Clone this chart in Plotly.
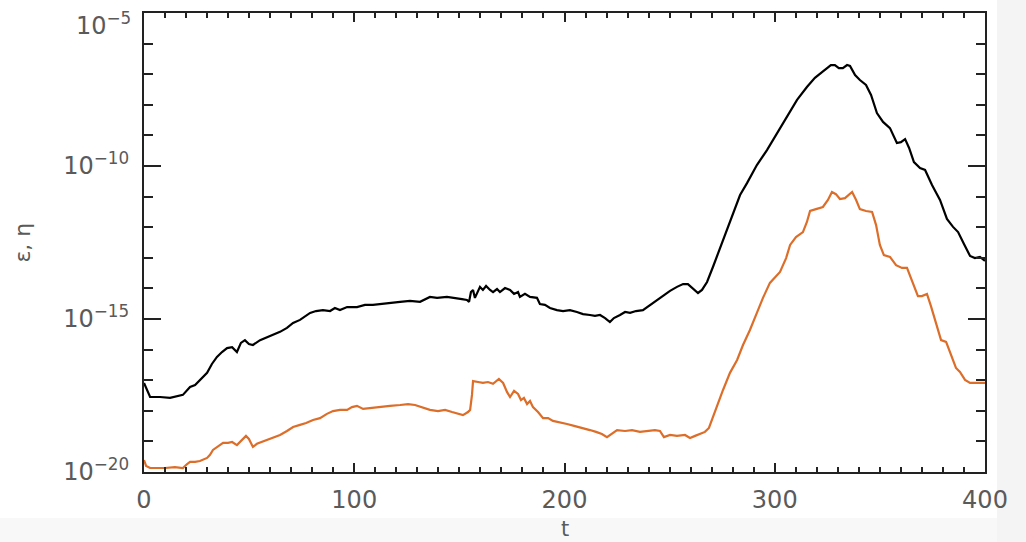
import plotly.graph_objects as go

# time samples and log10 values
t_eps = [0, 1, 2.9, 7.6, 12.4, 18.5, 21.9, 24.3, 26.6, 30, 32.3, 34.7, 37.1, 39.5, 41.9, 44.2, 46.1, 48, 49.9, 51.8,
         55.2, 58.5, 61.8, 64.7, 68, 70.9, 74.2, 76.6, 79, 81.8, 85.1, 88.5, 90.8, 93.2, 96.6, 101.3, 105.1, 108.9,
         112.2, 117, 121.8, 126.5, 131.3, 136, 139.4, 144.1, 147.9, 151.2, 153.6, 154.6, 155.5, 156.5, 157.4, 158.4,
         159.8, 161.2, 162.7, 164.6, 166, 167.9, 169.3, 171.7, 174.1, 176, 177.9, 178.8, 181.2, 183.6, 186.9, 188.3,
         190.7, 193.1, 196.4, 199.3, 202.6, 205.9, 208.8, 212.1, 214.5, 216.9, 219.3, 221.6, 223.5, 226.4, 228.8,
         231.2, 234, 237.3, 240.7, 244, 246.9, 250.2, 253.5, 256.4, 258.7, 261.1, 263.5, 265.4, 267.8, 270.6, 274,
         278.7, 283.5, 286.8, 291.5, 296.3, 301.1, 305.8, 310.6, 315.3, 319.1, 322.5, 324.8, 326.7, 328.6, 330.5,
         332.4, 334.4, 335.8, 338.2, 340.5, 343.4, 345.8, 348.6, 351.5, 354.8, 358.1, 360, 362, 363.9, 366.2, 369.1,
         371.5, 374.8, 378.6, 381.9, 384.8, 387.2, 390, 392.9, 395.2, 397.6, 400]
log_eps = [-17.09, -17.25, -17.55, -17.55, -17.58, -17.48, -17.22, -17.16, -16.99, -16.76, -16.47, -16.24, -16.08,
           -15.95, -15.92, -16.08, -15.78, -15.69, -15.82, -15.85, -15.69, -15.59, -15.49, -15.42, -15.29, -15.13,
           -15.03, -14.90, -14.80, -14.74, -14.71, -14.74, -14.64, -14.71, -14.61, -14.61, -14.54, -14.54, -14.51,
           -14.48, -14.44, -14.41, -14.44, -14.28, -14.31, -14.28, -14.31, -14.35, -14.38, -14.44, -14.12, -14.05,
           -14.31, -14.18, -13.95, -14.05, -13.92, -14.05, -14.12, -14.02, -14.12, -13.99, -14.05, -14.18, -14.12,
           -14.28, -14.18, -14.28, -14.31, -14.51, -14.54, -14.64, -14.71, -14.74, -14.71, -14.77, -14.84, -14.87,
           -14.90, -14.87, -14.97, -15.10, -14.97, -14.87, -14.77, -14.80, -14.74, -14.71, -14.54, -14.38, -14.25,
           -14.08, -13.95, -13.86, -13.86, -13.99, -14.15, -14.05, -13.79, -13.30, -12.68, -11.76, -10.95, -10.56,
           -9.97, -9.48, -8.92, -8.40, -7.84, -7.42, -7.12, -6.93, -6.80, -6.70, -6.70, -6.80, -6.80, -6.70, -6.73,
           -7.03, -7.19, -7.35, -7.68, -8.27, -8.56, -8.76, -9.25, -9.22, -9.12, -9.41, -9.87, -10.07, -10.13, -10.62,
           -11.11, -11.73, -11.99, -12.16, -12.55, -12.94, -13.01, -12.97, -13.10]

t_eta = [0, 1, 2.9, 10, 14.7, 18.5, 20.5, 21.9, 24.3, 26.6, 30, 31.4, 32.8, 35.2, 37.6, 40, 41.9, 44.2, 46.6, 48.5,
         49.9, 51.8, 53.7, 56.1, 58.5, 61.8, 64.7, 68, 70.9, 74.2, 77.1, 80.4, 83.7, 87, 89.9, 93.2, 96.6, 98.9,
         101.3, 104.2, 107.5, 112.2, 117, 121.8, 125.6, 128.9, 132.2, 136, 139.8, 143.2, 146.5, 149.3, 151.7, 154.1,
         155.1, 156, 156.5, 158.9, 161.2, 163.6, 166, 168.8, 170.8, 172.7, 174.1, 176, 177.9, 179.3, 180.7, 182.2,
         183.6, 185, 187.4, 189.8, 192.2, 194.5, 197.9, 201.2, 205, 208.8, 212.1, 215, 217.8, 220.2, 222.6, 225,
         228.8, 232.1, 235.9, 239.2, 243, 245.4, 247.3, 250.2, 253.5, 257.3, 259.7, 262.1, 264.4, 266.8, 268.7,
         270.6, 273, 275.4, 278.7, 282.1, 284.9, 288.2, 291.5, 294.4, 297.7, 300.1, 302.5, 305.4, 307.3, 310.1,
         313.4, 315.3, 316.8, 319.6, 322.9, 325.3, 327.2, 329.1, 331, 333.4, 335.3, 336.8, 338.7, 340.5, 343.4,
         346.3, 348.2, 350, 351.9, 354.8, 357.7, 360.5, 362.9, 365.3, 368.1, 370, 372.4, 374.3, 376.7, 379.1, 381.5,
         383.8, 386.2, 388.1, 390.5, 392.9, 396.7, 400]
log_eta = [-19.61, -19.80, -19.87, -19.87, -19.84, -19.87, -19.74, -19.67, -19.67, -19.64, -19.54, -19.44, -19.28,
           -19.15, -19.05, -19.05, -19.02, -19.12, -18.95, -18.82, -18.92, -19.18, -19.08, -19.02, -18.95, -18.86,
           -18.79, -18.66, -18.53, -18.46, -18.40, -18.30, -18.24, -18.10, -18.01, -17.97, -17.97, -17.88, -17.84,
           -17.94, -17.91, -17.88, -17.84, -17.81, -17.78, -17.81, -17.88, -17.97, -18.01, -17.97, -18.04, -18.10,
           -18.14, -18.04, -17.97, -17.48, -17.03, -17.06, -17.09, -17.06, -17.12, -16.96, -17.09, -17.39, -17.55,
           -17.35, -17.45, -17.65, -17.58, -17.78, -17.68, -17.88, -18.04, -18.24, -18.24, -18.33, -18.37, -18.43,
           -18.50, -18.56, -18.63, -18.69, -18.76, -18.86, -18.73, -18.63, -18.66, -18.63, -18.69, -18.66, -18.63,
           -18.66, -18.86, -18.79, -18.82, -18.79, -18.89, -18.82, -18.76, -18.69, -18.56, -18.20, -17.81, -17.32,
           -16.76, -16.34, -15.85, -15.36, -14.80, -14.31, -13.82, -13.63, -13.46, -13.01, -12.58, -12.32, -12.16,
           -11.83, -11.47, -11.41, -11.34, -11.11, -10.85, -10.92, -11.08, -11.05, -10.92, -10.85, -11.11, -11.41,
           -11.47, -11.50, -11.93, -12.58, -12.91, -12.97, -13.24, -13.33, -13.33, -13.73, -14.25, -14.25, -14.18,
           -14.58, -15.13, -15.69, -15.75, -16.18, -16.60, -16.73, -16.99, -17.09, -17.09, -17.09]

x_ticks = [0, 100, 200, 300, 400]
y_tick_exps = [-20, -15, -10, -5]
y_tick_text = ["10<sup>−20</sup>", "10<sup>−15</sup>", "10<sup>−10</sup>", "10<sup>−5</sup>"]

eps = [10 ** v for v in log_eps]
eta = [10 ** v for v in log_eta]

FONT = "DejaVu Sans, Liberation Sans, sans-serif"
GREY = "#5a5a5a"

fig = go.Figure()
fig.add_trace(go.Scatter(x=t_eps, y=eps, mode="lines", line=dict(color="#000000", width=2.2), name="ε"))
fig.add_trace(go.Scatter(x=t_eta, y=eta, mode="lines", line=dict(color="#dc6e2a", width=2.2), name="η"))

tick_font = dict(family=FONT, size=24, color=GREY)

# the top label (10^-5) is drawn as an annotation slightly below its tick so it stays inside the page
axis_tick_text = y_tick_text[:-1] + [""]

fig.update_layout(
    width=1026, height=542,
    margin=dict(l=144, r=41, t=13, b=70, autoexpand=False),
    paper_bgcolor="white", plot_bgcolor="white",
    showlegend=False,
    xaxis=dict(
        range=[-0.001, 400.001], tickvals=x_ticks, ticktext=[str(v) for v in x_ticks],
        ticks="inside", ticklen=9, tickwidth=1.5, tickcolor="#222",
        showline=True, linecolor="#222", linewidth=2, mirror="allticks",
        showgrid=False, zeroline=False, tickfont=tick_font, ticklabelstandoff=5,
        ticklabeloverflow="allow", automargin=False,
        minor=dict(dtick=10, ticks="inside", ticklen=5, tickwidth=1.5, tickcolor="#222", showgrid=False),
    ),
    yaxis=dict(
        type="log", range=[-20.0005, -4.9995],
        tickvals=[10 ** e for e in y_tick_exps], ticktext=axis_tick_text,
        ticks="inside", ticklen=17, tickwidth=1.5, tickcolor="#222",
        showline=True, linecolor="#222", linewidth=2, mirror="allticks",
        showgrid=False, zeroline=False, tickfont=tick_font, ticklabelstandoff=8,
        ticklabeloverflow="allow", automargin=False,
        minor=dict(dtick=1, ticks="inside", ticklen=9, tickwidth=1.5, tickcolor="#222", showgrid=False),
    ),
    shapes=[
        dict(type="rect", xref="paper", yref="paper", x0=-0.2, x1=1.06, y0=-0.1002, y1=-0.16,
             fillcolor="#f8f8f8", line=dict(width=0), layer="below"),
        dict(type="rect", xref="paper", yref="paper", x0=1.0143, x1=1.06, y0=-0.16, y1=1.05,
             fillcolor="#f4f4f4", line=dict(width=0), layer="below"),
    ],
    annotations=[
        dict(text=y_tick_text[-1], xref="paper", yref="paper", x=-0.0125, y=0.975, showarrow=False,
             font=tick_font, xanchor="right", yanchor="middle"),
        dict(text="t", xref="x", yref="paper", x=200, y=-0.125, showarrow=False,
             font=dict(family=FONT, size=21, color=GREY), xanchor="center", yanchor="middle"),
        dict(text="ε, η", xref="paper", yref="paper", x=-0.145, y=0.5, showarrow=False, textangle=-90,
             font=dict(family=FONT, size=22, color=GREY), xanchor="center", yanchor="middle"),
    ],
)

fig.write_html("out.html")
